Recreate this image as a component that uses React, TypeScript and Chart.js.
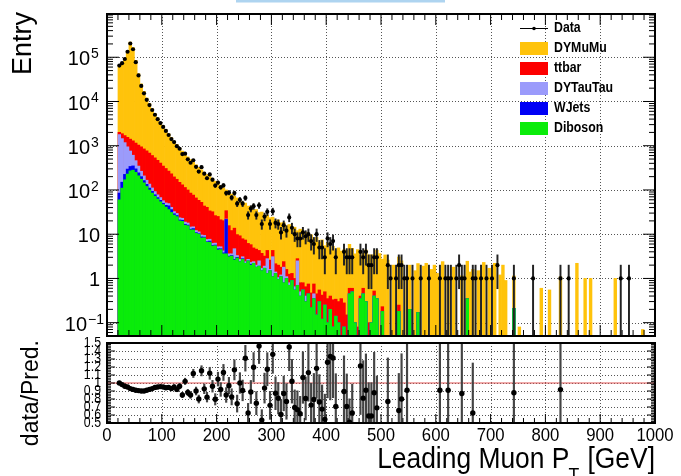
import React, { useEffect, useRef } from "react";
import { Chart, registerables } from "chart.js";

Chart.register(...registerables);

const FONT = '"Liberation Sans", Arial, Helvetica, sans-serif';

// ---------------- binning (5 GeV bins from 20 GeV) ----------------
const BIN_START = 20;
const BIN_WIDTH = 5;
const NBINS = 196;

// ---------------- MC components (per bin) ----------------
const diboson = [
  60, 110, 170, 230, 270, 280, 250, 210, 175, 145,
  120, 100, 85, 72, 62, 54, 47, 41, 36, 31,
  27, 25, 20, 19.5, 16, 15.5, 12.5, 12.5, 10.5, 10,
  8.2, 8.3, 6.6, 6.6, 5.4, 5.5, 4.4, 4.5, 3.6, 3.6,
  3.1, 3.2, 2.6, 2.9, 2.4, 2.7, 2.2, 2.5, 2.0, 2.2,
  1.8, 1.9, 1.5, 1.7, 1.3, 1.5, 1.1, 1.3, 0.95, 1.1,
  0.8, 1.0, 0.7, 0.9, 0.55, 0.7, 0.4, 0.55, 0.3, 0.45,
  0.22, 0.35, 0.15, 0.3, 0.12, 0.25, 0.1, 0.2, 0.08, 0.14,
  0.1, 0.05, 0.08, 0, 0.45, 0.5, 0.1, 0, 0.35, 0.45,
  0.3, 0, 0.1, 0.4, 0.35, 0, 0.18, 0, 0, 0,
  0, 0, 0.18, 0, 0, 0, 0.2, 0, 0, 0.17,
  0, 0, 0, 0, 0, 0, 0, 0, 0, 0,
  0, 0, 0, 0, 0, 0, 0, 0.35, 0, 0,
  0, 0, 0, 0, 0, 0, 0, 0, 0, 0,
  0, 0, 0, 0, 0.21,
];

const wjets = [
  25, 40, 55, 65, 70, 70, 50, 35, 25, 18,
  14, 11, 8, 6, 5, 4, 3, 4, 8, 5,
  2, 1.5, 1, 1.2, 0.8, 0.6, 0.5, 0.9, 0.4, 0.3,
  0.5, 0.3, 0.2, 0.4, 0.2, 0.2, 0.3, 0.2, 0.2, 18,
  0.1, 0.1, 0.1, 0.1, 0, 0.1, 0, 0, 0.1,
];

const dyTauTau = [
  1700, 1300, 950, 650, 420, 260, 160, 100, 65, 45,
  32, 24, 18, 14, 11, 9, 7, 6, 5, 4.5,
  3.5, 3, 2.5, 2.2, 2, 1.8, 1.5, 1.3, 1.2, 1,
  0.9, 0.8, 0.8, 0.7, 0.6, 0.6, 0.5, 0.5, 0.4, 0.4,
  0.4, 0.3, 2.0, 0.3, 0.3, 0.3, 0.2, 0.2, 0.2, 0.2,
  0.2, 0.6, 0.2, 0.2, 1.5, 0.1, 2.0, 0.1, 0.1, 0.1,
  1.0, 0.1, 0.1, 0, 0.1, 1.8, 0.1, 0, 0.1, 0,
  0, 0.1,
];

const ttbar = [
  220, 420, 520, 600, 650, 680, 690, 690, 680, 640,
  600, 550, 490, 440, 390, 340, 290, 255, 220, 190,
  165, 145, 125, 108, 95, 82, 70, 62, 54, 47,
  43, 34, 33, 26, 26, 20, 20, 16, 16, 12,
  12, 8.5, 9, 6.5, 6.5, 4.8, 5, 3.5, 3.5, 2.5,
  2.6, 1.8, 2.0, 1.3, 1.5, 1.0, 1.2, 0.75, 0.95, 0.6,
  0.6, 0.5, 0.45, 0.4, 0.35, 0.3, 0.3, 0.25, 0.25, 0.3,
  0.25, 0.3, 0.3, 0.25, 0.3, 0.25, 0.25, 0.2, 0.25, 0.2,
  0.2, 0.3, 0.2, 0.15, 0.15, 0.1, 0, 0.08, 0.05, 0.15,
  0, 0.1, 0, 0.12, 0, 0.05, 0.05, 0, 0, 0,
  0, 0, 0.07,
];

const dyMuMu = [
  63000, 73130, 93300, 138450, 218590, 163710, 83850, 41965, 24055, 16150,
  11234, 8315, 6299, 4768, 3732, 2993, 2453, 1994, 1581, 1290,
  1072, 885, 741, 629, 536, 460, 400, 343, 304, 267,
  232, 209, 183, 166, 146, 132, 115, 104, 92, 66,
  74.4, 68.9, 59.3, 56.2, 50.8, 46.1, 43, 37, 37, 31,
  31.5, 26.5, 28, 23.5, 23, 21, 20, 18.5, 19, 16.3,
  16, 14, 15.3, 12.4, 13.4, 9.2, 12.2, 9.5, 10.5, 8.1,
  9.2, 6.8, 8.0, 6.0, 7.0, 5.0, 6.0, 4.1, 5.0, 3.9,
  4.6, 3.8, 4.2, 4.1, 5.3, 4.2, 3.5, 4.4, 2.9, 3.1,
  4.1, 3.3, 3.3, 2.9, 4.0, 3.6, 2.5, 3.4, 2.6, 0,
  2.0, 0, 2.8, 2.5, 0, 1.1, 1.8, 0, 1.5, 2.0,
  0, 1.9, 2.2, 0, 1.6, 2.0, 1.3, 1.1, 2.4, 0,
  1.1, 0, 1.8, 0, 0, 1.15, 0, 2.1, 1.4, 1.6,
  0, 1.5, 0, 2.3, 0, 1.7, 0, 2.2, 0, 1.2,
  2.0, 0.9, 0, 0, 0.93, 0, 0.08, 0, 0, 0,
  0, 0, 0, 0, 0.6, 0, 0, 0.55, 0, 0,
  0, 1.09, 0, 0, 0, 0, 0, 2.2, 0, 0,
  1.0, 0, 1.0, 0, 0, 0, 0, 0, 0, 0,
  0, 1.0, 0, 0, 0, 0, 0, 0, 0, 0,
  0, 0.07,
];

// ---------------- observed data counts ----------------
const dataCounts = [
  65000, 73500, 91200, 133000, 204600, 151800, 77350, 38915, 22500, 15300,
  10920, 8280, 6417, 5009, 3990, 3247, 2660, 2162, 1748, 1414,
  1207, 975, 854, 646, 663, 493, 412, 470, 333, 260,
  328, 234, 184, 224, 171, 126, 147, 115, 127, 85,
  87, 67, 85, 49, 60, 49, 66, 27, 38, 43,
  27, 45, 17, 25, 32, 17, 33, 18, 17, 11,
  16, 12, 24, 14, 10, 8, 8, 11, 9, 10,
  7, 6, 10, 5, 5, 3, 8, 6, 7, 3,
  0, 0, 4, 3, 3, 3, 0, 0, 4, 3,
  4, 2, 2, 3, 3, 0, 0, 0, 2, 1,
  0, 1, 2, 2, 1, 1, 0, 1, 0, 0,
  1, 0, 0, 1, 0, 0, 0, 1, 0, 1,
  1, 1, 0, 1, 2, 1, 1, 0, 0, 1,
  1, 0, 1, 0, 1, 0, 1, 0, 2, 0,
  0, 0, 0, 0, 1, 0, 0, 0, 0, 0,
  0, 1, 0, 0, 0, 0, 0, 0, 0, 0,
  0, 1, 0, 0, 1, 0, 0, 0, 0, 0,
  0, 0, 0, 0, 0, 0, 0, 0, 0, 0,
  0, 0, 0, 1, 0, 0, 1,
];

// ---------------- axes / ticks / labels ----------------
const X_MIN = 0;
const X_MAX = 1000;
const Y_MIN = 0.05;
const Y_MAX = 9.5e5;
const R_MIN = 0.5;
const R_MAX = 1.5;

const xMajorTicks = [0, 100, 200, 300, 400, 500, 600, 700, 800, 900, 1000];
const xTickLabels = ["0", "100", "200", "300", "400", "500", "600", "700", "800", "900", "1000"];
const yDecades = [0.1, 1, 10, 100, 1000, 10000, 100000];
const yTickBase = ["10", "1", "10", "10", "10", "10", "10"];
const yTickSup = ["\u22121", "", "", "2", "3", "4", "5"];
const ratioTicks = [0.5, 0.6, 0.7, 0.8, 0.9, 1.0, 1.1, 1.2, 1.3, 1.4, 1.5];
const ratioLabels = ["0.5", "0.6", "0.7", "0.8", "0.9", "1", "1.1", "1.2", "1.3", "1.4", "1.5"];

const legendNames = ["DYMuMu", "ttbar", "DYTauTau", "WJets", "Diboson"];
const legendColors = ["#ffc30b", "#fd0000", "#9b9bfb", "#0000f5", "#0aec0a"];
// stacking order bottom -> top
const stackColors = ["#0aec0a", "#0000f5", "#9b9bfb", "#fd0000", "#ffc30b"];

const xTitle = "Leading Muon P";
const xTitleSub = "T";
const xTitleUnit = " [GeV]";
const yTitleTop = "Entry";
const yTitleRatio = "data/Pred.";

// ---------------- derived tables ----------------
const padBins = (a: number[]) => a.concat(new Array(Math.max(0, NBINS - a.length)).fill(0));
const DIB = padBins(diboson);
const WJ = padBins(wjets);
const TAU = padBins(dyTauTau);
const TT = padBins(ttbar);
const DY = padBins(dyMuMu);
const DATA = padBins(dataCounts);
const binCenters = Array.from({ length: NBINS }, (_, i) => BIN_START + BIN_WIDTH * (i + 0.5));

const layers = [DIB, WJ, TAU, TT, DY];
const cumulative: number[][] = [];
{
  let run = new Array(NBINS).fill(0);
  for (const l of layers) {
    run = run.map((v: number, i: number) => v + l[i]);
    cumulative.push(run);
  }
}
const totalMC = cumulative[cumulative.length - 1];

function txt(ctx: CanvasRenderingContext2D, s: string, x: number, y: number, size: number, o: any = {}) {
  ctx.save();
  ctx.font = `${o.bold ? "bold " : ""}${size}px ${FONT}`;
  ctx.textAlign = o.align || "left";
  ctx.textBaseline = o.baseline || "alphabetic";
  ctx.fillStyle = o.color || "#000";
  ctx.translate(x, y);
  if (o.rot) ctx.rotate(o.rot);
  ctx.scale(o.sx || 1, 1);
  ctx.fillText(s, 0, 0);
  ctx.restore();
}

function seg(ctx: CanvasRenderingContext2D, x1: number, y1: number, x2: number, y2: number) {
  ctx.beginPath();
  ctx.moveTo(x1, y1);
  ctx.lineTo(x2, y2);
  ctx.stroke();
}

const topDecor = {
  id: "topDecor",
  beforeDatasetsDraw(chart: any) {
    const { ctx, chartArea: a, scales } = chart;
    const x = scales.x, y = scales.y;
    ctx.save();
    ctx.strokeStyle = "#555";
    ctx.lineWidth = 1;
    ctx.setLineDash([1, 2]);
    for (const v of xMajorTicks) {
      if (v <= X_MIN || v >= X_MAX) continue;
      const px = Math.round(x.getPixelForValue(v)) + 0.5;
      seg(ctx, px, a.top, px, a.bottom);
    }
    for (const v of yDecades) {
      const py = Math.round(y.getPixelForValue(v)) + 0.5;
      seg(ctx, a.left, py, a.right, py);
    }
    ctx.restore();
  },
  afterDatasetsDraw(chart: any) {
    const { ctx, chartArea: a, scales } = chart;
    const x = scales.x, y = scales.y;
    ctx.save();
    ctx.strokeStyle = "#000";
    ctx.lineWidth = 1;
    for (let v = X_MIN; v <= X_MAX; v += 20) {
      const px = x.getPixelForValue(v);
      const len = v % 100 === 0 ? 11 : 6;
      seg(ctx, px, a.top, px, a.top + len);
      seg(ctx, px, a.bottom, px, a.bottom - len);
    }
    for (let d = -2; d <= 6; d++) {
      for (let m = 1; m <= 9; m++) {
        const v = m * Math.pow(10, d);
        if (v < Y_MIN || v > Y_MAX) continue;
        const py = y.getPixelForValue(v);
        const len = m === 1 ? 12 : 6;
        seg(ctx, a.left, py, a.left + len, py);
        seg(ctx, a.right, py, a.right - len, py);
      }
    }
    ctx.lineWidth = 2;
    ctx.strokeRect(a.left, a.top, a.right - a.left, a.bottom - a.top);
    ctx.restore();

    yDecades.forEach((v, i) => {
      const py = y.getPixelForValue(v);
      if (!yTickSup[i]) {
        txt(ctx, yTickBase[i], 100, py + 2.5, 20, { align: "right", baseline: "middle" });
      } else {
        const bx = yTickSup[i].length > 1 ? 87 : 90;
        txt(ctx, yTickBase[i], bx, py + 2.5, 20, { align: "right", baseline: "middle" });
        txt(ctx, yTickSup[i], bx + 1, py - 3, 14, { align: "left", baseline: "middle" });
      }
    });

    txt(ctx, yTitleTop, 31, 12, 27, { align: "right", rot: -Math.PI / 2 });

    ctx.save();
    ctx.strokeStyle = "#000";
    ctx.lineWidth = 1;
    seg(ctx, 520, 28.5, 548, 28.5);
    ctx.fillStyle = "#000";
    ctx.beginPath();
    ctx.arc(534, 28.5, 1.8, 0, Math.PI * 2);
    ctx.fill();
    ctx.restore();
    txt(ctx, "Data", 554, 28.5, 14, { bold: true, baseline: "middle", sx: 0.88 });
    legendNames.forEach((n, k) => {
      ctx.fillStyle = legendColors[k];
      ctx.fillRect(520, 42 + 20 * k, 28, 13);
      txt(ctx, n, 554, 48.5 + 20 * k, 14, { bold: true, baseline: "middle", sx: 0.88 });
    });

    ctx.fillStyle = "#aed4f0";
    ctx.fillRect(236, 0, 209, 2.5);
  },
};

const bottomDecor = {
  id: "bottomDecor",
  beforeDatasetsDraw(chart: any) {
    const { ctx, chartArea: a, scales } = chart;
    const x = scales.x, y = scales.y;
    ctx.save();
    ctx.strokeStyle = "#555";
    ctx.lineWidth = 1;
    ctx.setLineDash([1, 2]);
    for (const v of xMajorTicks) {
      if (v <= X_MIN || v >= X_MAX) continue;
      const px = Math.round(x.getPixelForValue(v)) + 0.5;
      seg(ctx, px, a.top, px, a.bottom);
    }
    for (const v of ratioTicks) {
      if (v <= R_MIN + 1e-9 || v >= R_MAX - 1e-9) continue;
      const py = Math.round(y.getPixelForValue(v)) + 0.5;
      seg(ctx, a.left, py, a.right, py);
    }
    ctx.setLineDash([]);
    ctx.strokeStyle = "#e05555";
    const p1 = y.getPixelForValue(1);
    seg(ctx, a.left, p1, a.right, p1);
    ctx.restore();
  },
  afterDatasetsDraw(chart: any) {
    const { ctx, chartArea: a, scales } = chart;
    const x = scales.x, y = scales.y;
    ctx.save();
    ctx.strokeStyle = "#000";
    ctx.lineWidth = 1;
    for (let v = X_MIN; v <= X_MAX; v += 20) {
      const px = x.getPixelForValue(v);
      const len = v % 100 === 0 ? 9 : 5;
      seg(ctx, px, a.bottom, px, a.bottom - len);
    }
    for (let k = 0; k <= 50; k++) {
      const v = R_MIN + k * 0.02;
      const py = y.getPixelForValue(v);
      const len = k % 5 === 0 ? 8 : 4;
      seg(ctx, a.left, py, a.left + len, py);
      seg(ctx, a.right, py, a.right - len, py);
    }
    ctx.lineWidth = 2;
    ctx.strokeRect(a.left, a.top, a.right - a.left, a.bottom - a.top);
    ctx.restore();

    ratioTicks.forEach((v, i) => {
      txt(ctx, ratioLabels[i], 101, y.getPixelForValue(v), 14, { align: "right", baseline: "middle", sx: 0.88 });
    });
    xMajorTicks.forEach((v, i) => {
      txt(ctx, xTickLabels[i], x.getPixelForValue(v), 441, 19, { align: "center", sx: 0.88 });
    });

    txt(ctx, yTitleRatio, 38, 340, 23, { align: "right", rot: -Math.PI / 2 });

    const sx = 0.88;
    ctx.save();
    ctx.font = `30px ${FONT}`;
    const w1 = ctx.measureText(xTitle).width;
    const w3 = ctx.measureText(xTitleUnit).width;
    ctx.font = `20px ${FONT}`;
    const w2 = ctx.measureText(xTitleSub).width;
    ctx.restore();
    const x0 = a.right - (w1 + w2 + w3) * sx;
    txt(ctx, xTitle, x0, 468, 30, { sx });
    txt(ctx, xTitleSub, x0 + w1 * sx - 1, 482, 20, { sx });
    txt(ctx, xTitleUnit, x0 + (w1 + w2) * sx, 468, 30, { sx });
  },
};

export default function App() {
  const topRef = useRef<HTMLCanvasElement>(null);
  const botRef = useRef<HTMLCanvasElement>(null);

  useEffect(() => {
    const dataPts: any[] = [];
    const dataErr: any[] = [];
    const ratioPts: any[] = [];
    const ratioErr: any[] = [];
    DATA.forEach((n: number, i: number) => {
      if (n <= 0) return;
      const xc = binCenters[i];
      const e = Math.sqrt(n);
      dataPts.push({ x: xc, y: n });
      dataErr.push({ x: xc, y: [Math.max(n - e, 1e-3), n + e] });
      const t = totalMC[i];
      if (t > 0) {
        const r = n / t;
        const re = e / t;
        ratioPts.push({ x: xc, y: r });
        ratioErr.push({ x: xc, y: [r - re, r + re] });
      }
    });

    const names = ["Diboson", "WJets", "DYTauTau", "ttbar", "DYMuMu"];
    const barSets = cumulative.map((c, k) => ({
      type: "bar",
      label: names[k],
      data: binCenters.map((xc, i) => ({ x: xc, y: c[i] > 0 ? c[i] : null })),
      backgroundColor: stackColors[k],
      borderWidth: 0,
      grouped: false,
      barPercentage: 1,
      categoryPercentage: 1,
    }));

    const common = {
      responsive: false,
      animation: false,
      devicePixelRatio: 1,
      events: [],
      plugins: { legend: { display: false }, tooltip: { enabled: false } },
    };

    const top = new Chart(topRef.current as HTMLCanvasElement, {
      type: "bar",
      data: {
        datasets: [
          {
            type: "line",
            label: "Data",
            data: dataPts,
            showLine: false,
            pointRadius: 2.1,
            pointBackgroundColor: "#000",
            pointBorderColor: "#000",
            pointBorderWidth: 0,
            borderColor: "#000",
          },
          {
            type: "bar",
            label: "Data err",
            data: dataErr,
            backgroundColor: "#222",
            borderWidth: 0,
            grouped: false,
            barPercentage: 1,
            categoryPercentage: 1,
            maxBarThickness: 1.3,
          },
          ...barSets,
        ] as any,
      },
      options: {
        ...common,
        layout: { padding: { left: 107, right: 26, top: 14, bottom: 140 } },
        scales: {
          x: { type: "linear", min: X_MIN, max: X_MAX, offset: false, display: false },
          y: { type: "logarithmic", min: Y_MIN, max: Y_MAX, display: false },
        },
      } as any,
      plugins: [topDecor],
    });

    const bot = new Chart(botRef.current as HTMLCanvasElement, {
      type: "bar",
      data: {
        datasets: [
          {
            type: "line",
            label: "ratio",
            data: ratioPts,
            showLine: false,
            pointRadius: 2.7,
            pointBackgroundColor: "#000",
            pointBorderColor: "#000",
            pointBorderWidth: 0,
            borderColor: "#000",
          },
          {
            type: "bar",
            label: "ratio err",
            data: ratioErr,
            backgroundColor: "#444",
            borderWidth: 0,
            grouped: false,
            barPercentage: 1,
            categoryPercentage: 1,
            maxBarThickness: 1.5,
          },
        ] as any,
      },
      options: {
        ...common,
        layout: { padding: { left: 107, right: 26, top: 343, bottom: 53 } },
        scales: {
          x: { type: "linear", min: X_MIN, max: X_MAX, offset: false, display: false },
          y: { type: "linear", min: R_MIN, max: R_MAX, display: false },
        },
      } as any,
      plugins: [bottomDecor],
    });

    return () => {
      top.destroy();
      bot.destroy();
    };
  }, []);

  return (
    <div style={{ position: "fixed", left: 0, top: 0, width: 681, height: 476, background: "#fff", overflow: "hidden" }}>
      <canvas ref={topRef} width={681} height={476} style={{ position: "absolute", left: 0, top: 0 }} />
      <canvas ref={botRef} width={681} height={476} style={{ position: "absolute", left: 0, top: 0 }} />
    </div>
  );
}
